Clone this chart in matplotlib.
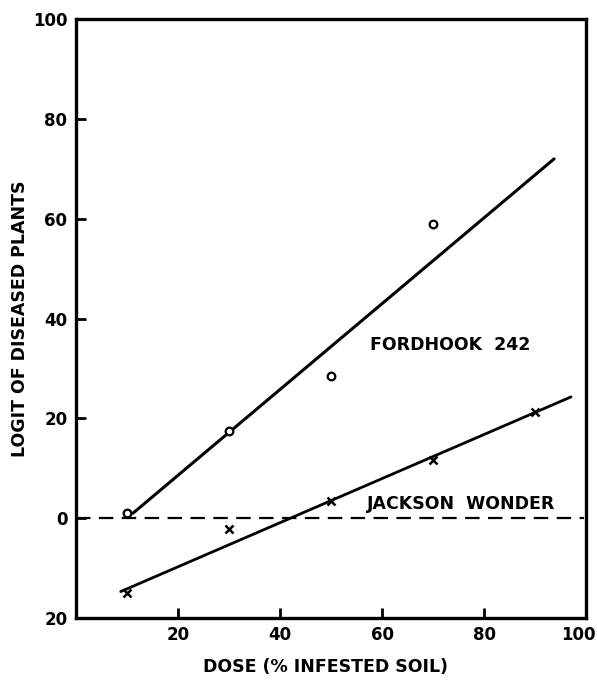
import matplotlib
matplotlib.use("Agg")
import matplotlib.pyplot as plt
from matplotlib.transforms import ScaledTranslation

# observed points (dose, logit)
dose = [10, 30, 50, 70, 90]
fordhook_dose = [10, 30, 50, 70]
fordhook_logit = [1.0, 17.5, 28.5, 59.0]
jackson_logit = [-15.0, -2.2, 3.4, 11.6, 21.3]

# fitted lines (end points)
fordhook_fit_x = [11.2, 93.7]
fordhook_fit_y = [1.0, 72.0]
jackson_fit_x = [8.8, 97.0]
jackson_fit_y = [-14.7, 24.3]

zero_x = [0, 99.5]
zero_y = [0, 0]

x_ticks = [20, 40, 60, 80, 100]
y_ticks = [-20, 0, 20, 40, 60, 80, 100]
y_tick_labels = ["20", "0", "20", "40", "60", "80", "100"]

tick_font = {"family": "DejaVu Sans", "weight": "bold", "size": 12}
label_font = {"family": "DejaVu Sans", "weight": "bold", "size": 12.5}

fig = plt.figure(figsize=(5.97, 6.84), dpi=100)
ax = fig.add_axes([0.127, 0.0965, 0.855, 0.8755])

ax.plot(fordhook_fit_x, fordhook_fit_y, color="black", lw=2.2, solid_capstyle="round")
ax.plot(jackson_fit_x, jackson_fit_y, color="black", lw=2.0, solid_capstyle="round")
ax.plot(zero_x, zero_y, color="black", lw=1.6, linestyle=(0, (6.5, 3.8)))

ax.plot(fordhook_dose, fordhook_logit, linestyle="none", marker="o", markersize=5.5,
        markerfacecolor="white", markeredgecolor="black", markeredgewidth=1.6)
ax.plot(dose, jackson_logit, linestyle="none", marker="x", markersize=6,
        color="black", markeredgewidth=1.8)

ax.text(73.3, 34.8, "FORDHOOK  242", ha="center", va="center", **label_font)
ax.text(75.4, 2.8, "JACKSON  WONDER", ha="center", va="center", **label_font)

ax.set_xlim(0, 100)
ax.set_ylim(-20, 100)
ax.set_xticks(x_ticks)
ax.set_xticklabels([str(t) for t in x_ticks], fontdict=tick_font)
ax.set_yticks(y_ticks)
ax.set_yticklabels(y_tick_labels, fontdict=tick_font)
ax.tick_params(direction="in", length=7, width=2, pad=6)
for s in ax.spines.values():
    s.set_linewidth(2.4)

# keep the last x label inside the figure
last = ax.get_xticklabels()[-1]
last.set_transform(last.get_transform() + ScaledTranslation(-8 / 100, 0, fig.dpi_scale_trans))

ax.set_xlabel("DOSE (% INFESTED SOIL)", **label_font)
ax.xaxis.set_label_coords(0.49, -0.066)
ax.set_ylabel("LOGIT OF DISEASED PLANTS", **label_font)
ax.yaxis.set_label_coords(-0.092, 0.50)

fig.savefig("out.png", dpi=100)
